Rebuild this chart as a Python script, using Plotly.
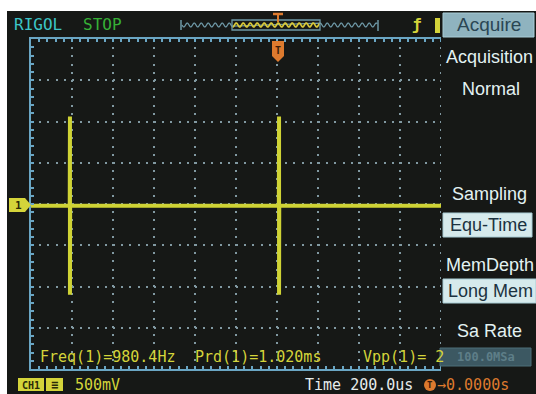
import numpy as np
import plotly.graph_objects as go

time_us = [-1200, -1011, -1010, -1010, -1009, 9, 10, 10, 11, 1200]
volts = [-0.02, -0.02, 1.06, -1.10, -0.02, -0.02, 1.06, -1.10, -0.02, -0.02]
meas_labels = ["Freq(1)=980.4Hz", "Prd(1)=1.020ms", "Vpp(1)= 2"]
menu_title = "Acquire"
menu_items = ["Acquisition", "Normal", "Sampling", "Equ-Time", "MemDepth", "Long Mem", "Sa Rate", "100.0MSa"]
time_base = "Time 200.0us"
trig_pos = "\u21920.0000s"
volt_scale = "500mV"

W, H = 536, 394
L, R, T, B = 31, 13, 39, 25
PW, PH = W - L - R, H - T - B

def PX(x):
    return (x - L) / PW

def PY(y):
    return (H - B - y) / PH

BG = "#161816"
GRID = "#8199a2"
BORDER = "#6aa6c4"
YEL = "#d4d43a"
CYAN = "#3cc6c8"
GREEN = "#36b136"
ORANGE = "#dd7a2e"
MENU_TXT = "#e2f2f2"
MONO = "DejaVu Sans Mono"
SANS = "Liberation Sans"

fig = go.Figure()
fig.add_trace(go.Scatter(x=time_us, y=volts, mode="lines",
                         line=dict(color="#cfd335", width=4), hoverinfo="skip"))

axis_common = dict(showline=True, linecolor=BORDER, linewidth=2, mirror="ticks",
                   ticks="inside", ticklen=3, tickcolor=BORDER, tickwidth=1.5,
                   showticklabels=False, showgrid=True, gridcolor=GRID, gridwidth=1.6,
                   griddash="2px,6.2px", zeroline=False)
fig.update_xaxes(range=[-1200, 1200], dtick=200, tick0=0,
                 minor=dict(dtick=40, ticks="inside", ticklen=3, tickcolor=BORDER, showgrid=False),
                 **axis_common)
fig.update_yaxes(range=[-2, 2], dtick=0.5, tick0=0,
                 minor=dict(dtick=0.1, ticks="inside", ticklen=3, tickcolor=BORDER, showgrid=False),
                 **axis_common)

shapes = []
def rect(x0, y0, x1, y1, fill, line=None, lw=0):
    shapes.append(dict(type="rect", xref="paper", yref="paper", layer="above",
                       x0=PX(x0), x1=PX(x1), y0=PY(y1), y1=PY(y0), fillcolor=fill,
                       line=dict(color=line or fill, width=lw)))

def path(pts, fill=None, line=None, lw=1, close=False):
    d = "M " + " L ".join(f"{PX(x):.5f},{PY(y):.5f}" for x, y in pts)
    if close:
        d += " Z"
    shapes.append(dict(type="path", xref="paper", yref="paper", layer="above", path=d,
                       fillcolor=fill if fill else "rgba(0,0,0,0)",
                       line=dict(color=line if line else "rgba(0,0,0,0)", width=lw)))

# menu background covering the right part of the graticule
rect(441, 11, 536, 372, BG)
# white margins of the photo
rect(0, 0, 7, 394, "white")
rect(0, 0, 536, 11, "white")

# memory depth bar
xs = np.arange(182, 378, 0.7)
wave = [(x, 25 + 2.0 * np.sin((x - 182) / 7.0 * 2 * np.pi)) for x in xs]
path([p for p in wave if p[0] <= 232 or p[0] >= 320], line="#6e98a6", lw=1.3)
path([p for p in wave if 232 <= p[0] <= 320], line="#d8c838", lw=1.6)
rect(232, 20, 320, 30, "rgba(0,0,0,0)", line="#6e98a6", lw=1.3)
path([(181, 20), (181, 30)], line="#6e98a6", lw=1.5)
path([(378, 20), (378, 31)], line="#6e98a6", lw=1.5)
path([(273, 14), (283, 14)], line=ORANGE, lw=2.5)
path([(278, 14), (278, 22)], line=ORANGE, lw=2)

# trigger slope / source
rect(435, 18, 440, 33, YEL)

# Acquire header button
rect(443, 13, 534, 37, "#8fb3bf", line="#a8ccd6", lw=1)
# Equ-Time / Long Mem buttons
rect(443, 213, 532, 237, "#d6eaec", line="#a8ccd4", lw=1)
rect(443, 279, 536, 303, "#d6eaec", line="#a8ccd4", lw=1)
# Sa Rate (disabled) box
rect(440, 348, 531, 366, "#3c5862", line="#4d6e78", lw=1)

# trigger position marker at top of graticule
path([(272, 41), (284, 41), (284, 56), (278, 62), (272, 56)], fill=ORANGE, close=True)
# channel 1 ground marker
path([(9, 198), (25, 198), (31, 205), (25, 212), (9, 212)], fill=YEL, close=True)
# CH1 badge and trigger-time icon
rect(18, 378, 44, 391, YEL)
rect(46, 378, 63, 391, YEL)
shapes.append(dict(type="circle", xref="paper", yref="paper", layer="above",
                   x0=PX(424), x1=PX(436), y0=PY(391), y1=PY(379),
                   fillcolor=ORANGE, line=dict(color=ORANGE, width=0)))

ann = []
def text(s, x, y, color, size, font=MONO, anchor="left", bold=False):
    if bold:
        s = "<b>" + s + "</b>"
    ann.append(dict(text=s, x=PX(x), y=PY(y), xref="paper", yref="paper", showarrow=False,
                    xanchor=anchor, yanchor="middle", borderpad=0,
                    font=dict(family=font, size=size, color=color)))

text("RIGOL", 13, 25, CYAN, 16)
text("STOP", 82, 25, GREEN, 16)
text("ƒ", 417, 25, YEL, 16, bold=True, anchor="center")
text(menu_title, 489, 25, "#2a4654", 19, font=SANS, anchor="center")
text(menu_items[0], 489, 57, MENU_TXT, 18, font=SANS, anchor="center")
text(menu_items[1], 491, 89, MENU_TXT, 18, font=SANS, anchor="center")
text(menu_items[2], 489, 194, MENU_TXT, 18, font=SANS, anchor="center")
text(menu_items[3], 488, 225, "#1c3240", 18, font=SANS, anchor="center")
text(menu_items[4], 490, 265, MENU_TXT, 18, font=SANS, anchor="center")
text(menu_items[5], 490, 291, "#1c3240", 18, font=SANS, anchor="center")
text(menu_items[6], 489, 331, MENU_TXT, 18, font=SANS, anchor="center")
text(menu_items[7], 486, 357, "#5e7e88", 12, font=MONO, anchor="center", bold=True)

text("T", 278, 50, "#3a1c08", 10, font=MONO, anchor="center", bold=True)
text("1", 18, 205, "#2a2a08", 11, font=MONO, anchor="center", bold=True)

text(meas_labels[0], 39, 357, YEL, 15)
text(meas_labels[1], 194, 357, YEL, 15)
text(meas_labels[2], 362, 357, YEL, 15)

text("CH1", 31, 385, "#2a2a08", 10, font=MONO, anchor="center", bold=True)
text("≡", 54, 385, "#2a2a08", 12, font=MONO, anchor="center", bold=True)
text(volt_scale, 74, 385, YEL, 15)
text(time_base, 304, 385, "#e6ecec", 15)
text("T", 430, 385, "#3a1c08", 9, font=MONO, anchor="center", bold=True)
text(trig_pos, 436, 385, ORANGE, 15)

fig.update_layout(width=W, height=H, margin=dict(l=L, r=R, t=T, b=B),
                  paper_bgcolor=BG, plot_bgcolor=BG, showlegend=False,
                  shapes=shapes, annotations=ann)
fig.write_html("out.html")
